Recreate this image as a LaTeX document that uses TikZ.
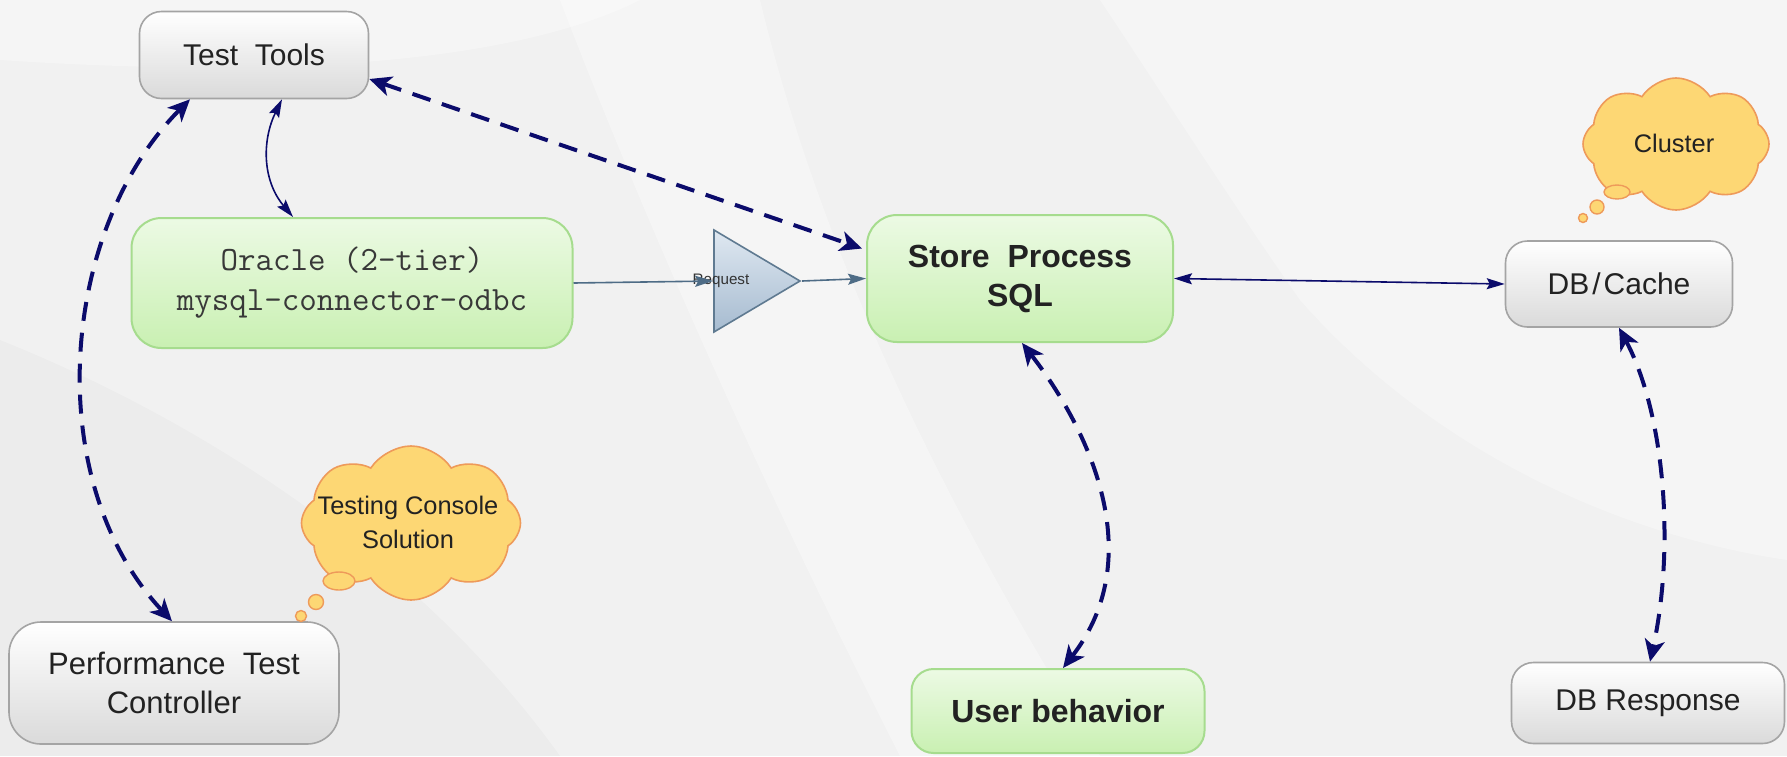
\documentclass[tikz,border=0pt]{standalone}
\usepackage{fontspec}
\setmainfont{Liberation Sans}
\usetikzlibrary{arrows.meta,shapes.symbols,shapes.geometric,calc}
\definecolor{navy}{HTML}{0B0B6B}
\definecolor{bgbase}{HTML}{F1F1F1}
\definecolor{graybd}{HTML}{A4A4A4}
\definecolor{graybot}{HTML}{DADADA}
\definecolor{greentop}{HTML}{ECFAE4}
\definecolor{greenbot}{HTML}{C9F0B2}
\definecolor{greenbd}{HTML}{A6DC8E}
\definecolor{cloudfill}{HTML}{FDD774}
\definecolor{cloudbd}{HTML}{EE9A5A}
\definecolor{tritop}{HTML}{DFE8F1}
\definecolor{tribot}{HTML}{A6BBD0}
\definecolor{tribd}{HTML}{5F7A91}
\definecolor{reqline}{HTML}{4E6C86}
\definecolor{txt}{HTML}{222222}
\tikzset{
  graybox/.style={draw=graybd, line width=0.8pt, rounded corners=11pt,
    top color=white, bottom color=graybot, text=txt, align=center,
    font=\fontsize{15pt}{19.5pt}\selectfont, inner sep=0pt},
  greenbox/.style={draw=greenbd, line width=1pt, rounded corners=15pt,
    top color=greentop, bottom color=greenbot, text=txt, align=center,
    inner sep=0pt},
  thought/.style={cloud, cloud puffs=8, cloud puff arc=115, cloud ignores aspect,
    draw=cloudbd, fill=cloudfill, line width=0.8pt, inner sep=0pt},
  thoughttext/.style={text=txt, align=center, inner sep=0pt,
    font=\fontsize{12.7pt}{17pt}\selectfont},
  bubble/.style={draw=cloudbd, fill=cloudfill, line width=0.7pt},
  dashlink/.style={navy, line width=2pt, dash pattern=on 9.5pt off 6pt,
    {Stealth[length=11pt,width=10pt,inset=3pt]}-{Stealth[length=11pt,width=10pt,inset=3pt]}},
  thinlink/.style={navy, line width=0.8pt,
    {Stealth[length=9pt,width=5.5pt,inset=1.5pt]}-{Stealth[length=9pt,width=5.5pt,inset=1.5pt]}},
  reqlink/.style={reqline, line width=0.8pt, -{Stealth[length=9pt,width=5.5pt,inset=1.5pt]}},
}
\begin{document}
\begin{tikzpicture}[x=0.5pt,y=-0.5pt]
\useasboundingbox (0,0) rectangle (1787,756);
% background
\fill[bgbase] (0,0) rectangle (1787,756);
\fill[white,opacity=0.3] (0,0) -- (640,0) .. controls (520,60) and (300,80) .. (0,60) -- cycle;
\fill[white,opacity=0.35] (560,0) -- (760,0) .. controls (820,250) and (940,500) .. (1100,756) -- (900,756) .. controls (780,520) and (660,260) .. (560,0) -- cycle;
\fill[white,opacity=0.3] (1100,0) -- (1787,0) -- (1787,560) .. controls (1650,540) and (1450,470) .. (1300,300) .. controls (1230,200) and (1160,90) .. (1100,0) -- cycle;
\fill[black,opacity=0.02] (0,340) .. controls (200,420) and (420,560) .. (560,756) -- (0,756) -- cycle;

% nodes
\node[graybox, minimum width=114.5pt, minimum height=43.5pt] (tt) at (254,55) {Test~ Tools};
\node[greenbox, minimum width=220.5pt, minimum height=65pt,
      font=\ttfamily\fontsize{17pt}{20pt}\selectfont, text=black!78] (orc) at (352,283)
      {Oracle (2-tier)\\mysql-connector-odbc};
\node[greenbox, minimum width=153pt, minimum height=63.5pt,
      font=\bfseries\fontsize{16pt}{19.5pt}\selectfont] (sp) at (1020,278.5) {Store~ Process\\SQL};
\node[graybox, minimum width=113.5pt, minimum height=43pt] (db) at (1619,284) {DB\kern1.5pt/\kern1.5pt Cache};
\node[graybox, minimum width=165pt, minimum height=61pt, rounded corners=16pt,
      font=\fontsize{15.5pt}{19.5pt}\selectfont] (perf) at (174,683)
      {Performance~ Test\\Controller};
\node[greenbox, minimum width=146.5pt, minimum height=42pt, rounded corners=11pt,
      font=\bfseries\fontsize{16pt}{18pt}\selectfont] (ub) at (1058,711) {User behavior};
\node[graybox, minimum width=136.5pt, minimum height=40.5pt] (dbr) at (1648,703) {DB Response};

% request triangle
\node[isosceles triangle, isosceles triangle stretches,
      minimum width=51pt, minimum height=43pt, inner sep=0pt,
      draw=tribd, line width=0.8pt, top color=tritop, bottom color=tribot] (tri) at (743,281) {};
\node[font=\fontsize{7.6pt}{8pt}\selectfont, text=black!80, inner sep=0pt] (reqtxt) at (721,281) {Request};

% clouds
\node[thought, minimum width=93pt, minimum height=66pt] (cl) at (1676,144) {};
\node[thoughttext] (cltxt) at (1674,143) {Cluster};
\draw[bubble] (1617,192) ellipse (13 and 7);
\draw[bubble] (1597,207) circle (7);
\draw[bubble] (1583,218) circle (4.5);

\node[thought, minimum width=109.5pt, minimum height=77pt] (tc) at (411,523) {};
\node[thoughttext] (tctxt) at (408,522) {Testing Console\\Solution};
\draw[bubble] (339,581) ellipse (16 and 9);
\draw[bubble] (316,602) circle (7.5);
\draw[bubble] (301,616) circle (5.5);

% connectors
\draw[dashlink] ($(tt.south)+(-64,0)$) .. controls (60,230) and (40,480) .. ($(perf.north)+(-2,0)$);
\draw[thinlink] ($(tt.south)+(28,0)$) .. controls (262,140) and (262,180) .. ($(orc.north)+(-59,0)$);
\draw[dashlink] ($(tt.east)+(0,24)$) -- ($(sp.west)+(-4,-30)$);
\draw[thinlink] (sp.east) -- (db.west);
\draw[dashlink] ($(sp.south)+(2,0)$) .. controls (1082,420) and (1153,552) .. ($(ub.north)+(5,0)$);
\draw[dashlink] (db.south) .. controls (1665,414) and (1675,548) .. ($(dbr.north)+(2,0)$);
\draw[reqlink] (orc.east) -- (tri.west);
\draw[reqlink] (tri.apex) -- (sp.west);
\end{tikzpicture}
\end{document}
